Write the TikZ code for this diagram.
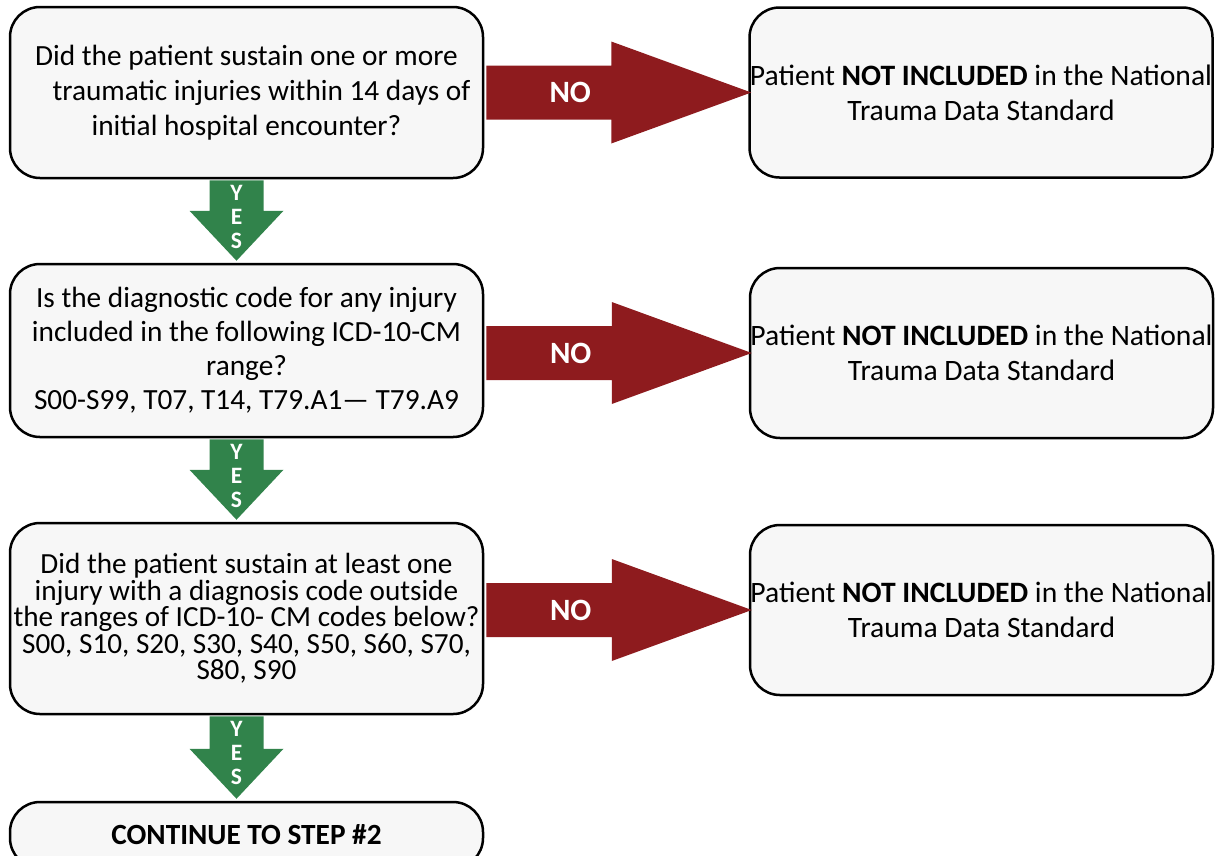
\documentclass[tikz,border=0pt]{standalone}
\usepackage{fontspec}
\setmainfont{Carlito}
\usetikzlibrary{calc}
\definecolor{boxfill}{HTML}{F7F7F7}
\definecolor{redc}{HTML}{8E1B1E}
\definecolor{greenc}{HTML}{31834B}
\newcommand\yesarrow[3]{%
  \fill[greenc] let \p1=(#1.south), \p2=(#2.north) in
    (\x1-37pt,\y1-1pt) -- (\x1+17pt,\y1-1pt) -- (\x1+17pt,\y2+52pt) -- (\x1+37pt,\y2+52pt)
    -- (\x1-10pt,\y2+2pt) -- (\x1-57pt,\y2+52pt) -- (\x1-37pt,\y2+52pt) -- cycle
    (\x1-10pt,\y1-38pt) node[yeslbl] (#3) {Y\\E\\S};}
\newcommand\noarrow[3]{%
  \fill[redc] let \p1=(#1.east), \p2=(#2.west) in
    (\x1+2pt,\y2+27pt) -- (\x2-137pt,\y2+27pt) -- (\x2-137pt,\y2+51pt) -- (\x2+3pt,\y2)
    -- (\x2-137pt,\y2-51pt) -- (\x2-137pt,\y2-27pt) -- (\x1+2pt,\y2-27pt) -- cycle
    (\x2-178pt,\y2) node[nolbl] (#3) {NO};}
\begin{document}
\begin{tikzpicture}[x=1pt,y=-1pt,
  qbox/.style={draw=black, line width=2.5pt, fill=boxfill, rounded corners=30pt,
    align=center, inner sep=0pt, minimum width=473pt},
  rbox/.style={qbox, minimum width=463pt, minimum height=170pt,
    font=\fontsize{29.6}{35}\selectfont},
  yeslbl/.style={text=white, align=center, inner sep=0pt,
    font=\bfseries\fontsize{23.5}{24}\selectfont},
  nolbl/.style={text=white, inner sep=0pt, font=\bfseries\fontsize{31}{32}\selectfont}]
\useasboundingbox (0,0) rectangle (1222,855);
\clip (0,0) rectangle (1222,855);

\node[qbox, minimum height=171pt, font=\fontsize{29.3}{35}\selectfont] (q1) at (246.5,92.5)
  {Did the patient sustain one or more\\ \hspace*{30pt}traumatic injuries within 14 days of\\ initial hospital encounter?};
\node[qbox, minimum height=173pt, font=\fontsize{29.3}{34}\selectfont] (q2) at (246.5,350.5)
  {Is the diagnostic code for any injury\\ included in the following ICD-10-CM\\ range?\\ S00-S99, T07, T14, T79.A1--- T79.A9};
\node[qbox, minimum height=191pt, font=\fontsize{29.2}{26.5}\selectfont] (q3) at (246.5,618.5)
  {Did the patient sustain at least one\\ injury with a diagnosis code outside\\ the ranges of ICD-10- CM codes below?\\ S00, S10, S20, S30, S40, S50, S60, S70,\\ S80, S90};
\node[qbox, minimum height=66pt, font=\bfseries\fontsize{29.3}{30}\selectfont] (q4) at (246.5,835)
  {CONTINUE TO STEP \#2};

\node[rbox] (n1) at (981,92.5) {Patient \textbf{NOT INCLUDED} in the National\\ Trauma Data Standard};
\node[rbox] (n2) at (981.5,353) {Patient \textbf{NOT INCLUDED} in the National\\ Trauma Data Standard};
\node[rbox] (n3) at (981.5,610) {Patient \textbf{NOT INCLUDED} in the National\\ Trauma Data Standard};

\yesarrow{q1}{q2}{y1}
\yesarrow{q2}{q3}{y2}
\yesarrow{q3}{q4}{y3}
\noarrow{q1}{n1}{no1}
\noarrow{q2}{n2}{no2}
\noarrow{q3}{n3}{no3}
\end{tikzpicture}
\end{document}
